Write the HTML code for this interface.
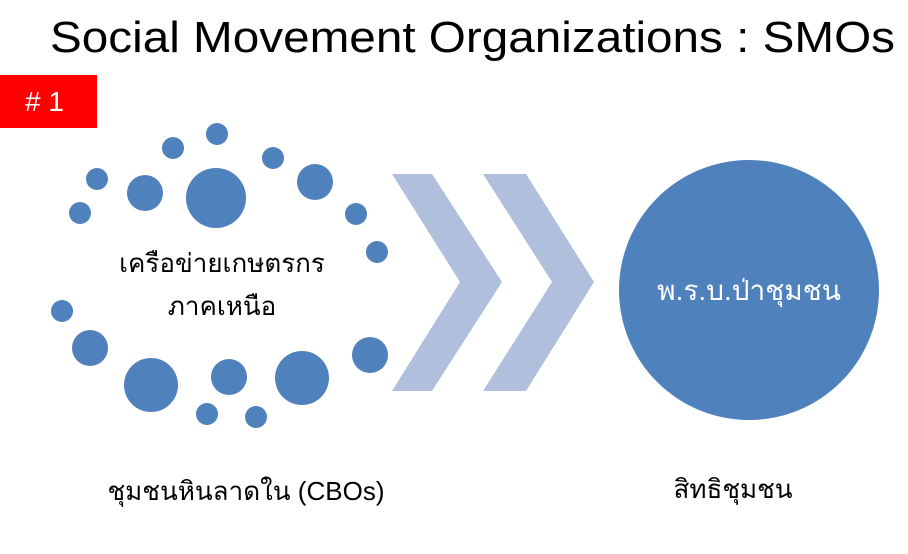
<!DOCTYPE html>
<html><head><meta charset="utf-8"><style>body{margin:0;background:#fff}svg{display:block}</style></head><body>
<svg width="908" height="554" viewBox="0 0 908 554" xmlns="http://www.w3.org/2000/svg" font-family="'Liberation Sans','Noto Sans CJK SC',sans-serif">
<rect width="908" height="554" fill="#fff"/>
<text x="50" y="52" font-size="44" fill="#000" textLength="845" lengthAdjust="spacingAndGlyphs">Social Movement Organizations : SMOs</text>
<rect x="0" y="75" width="97" height="53" fill="#ff0000"/>
<text x="25" y="111" font-size="28" fill="#fff">#&#160;1</text>
<g fill="#4f81bd">
<circle cx="217" cy="134" r="11"/><circle cx="173" cy="148" r="11"/><circle cx="273" cy="158" r="11"/>
<circle cx="97" cy="179" r="11"/><circle cx="145" cy="193" r="18"/><circle cx="216" cy="198" r="30"/>
<circle cx="315" cy="182" r="18"/><circle cx="80" cy="213" r="11"/><circle cx="356" cy="214" r="11"/>
<circle cx="377" cy="252" r="11"/><circle cx="62" cy="311" r="11"/><circle cx="90" cy="348" r="18"/>
<circle cx="151" cy="385" r="27"/><circle cx="229" cy="377" r="18"/><circle cx="302" cy="378" r="27"/>
<circle cx="370" cy="355" r="18"/><circle cx="207" cy="414" r="11"/><circle cx="256" cy="417" r="11"/>
<circle cx="749" cy="290" r="130"/>
</g>
<g fill="#b0c0dc">
<polygon points="392,174 432,174 502,282 432,391 392,391 460,282"/>
<polygon points="483,174 526,174 594,282 526,391 483,391 552,282"/>
</g>
<text x="222" y="272" font-size="26" text-anchor="middle" fill="#000">เครือข่ายเกษตรกร</text>
<text x="222" y="315" font-size="26" text-anchor="middle" fill="#000">ภาคเหนือ</text>
<text x="749" y="300" font-size="28" text-anchor="middle" fill="#fff">พ.ร.บ.ป่าชุมชน</text>
<text x="246" y="500" font-size="26" text-anchor="middle" fill="#000" textLength="277" lengthAdjust="spacingAndGlyphs">ชุมชนหินลาดใน (CBOs)</text>
<text x="733" y="498" font-size="26" text-anchor="middle" fill="#000">สิทธิชุมชน</text>
</svg>
</body></html>
